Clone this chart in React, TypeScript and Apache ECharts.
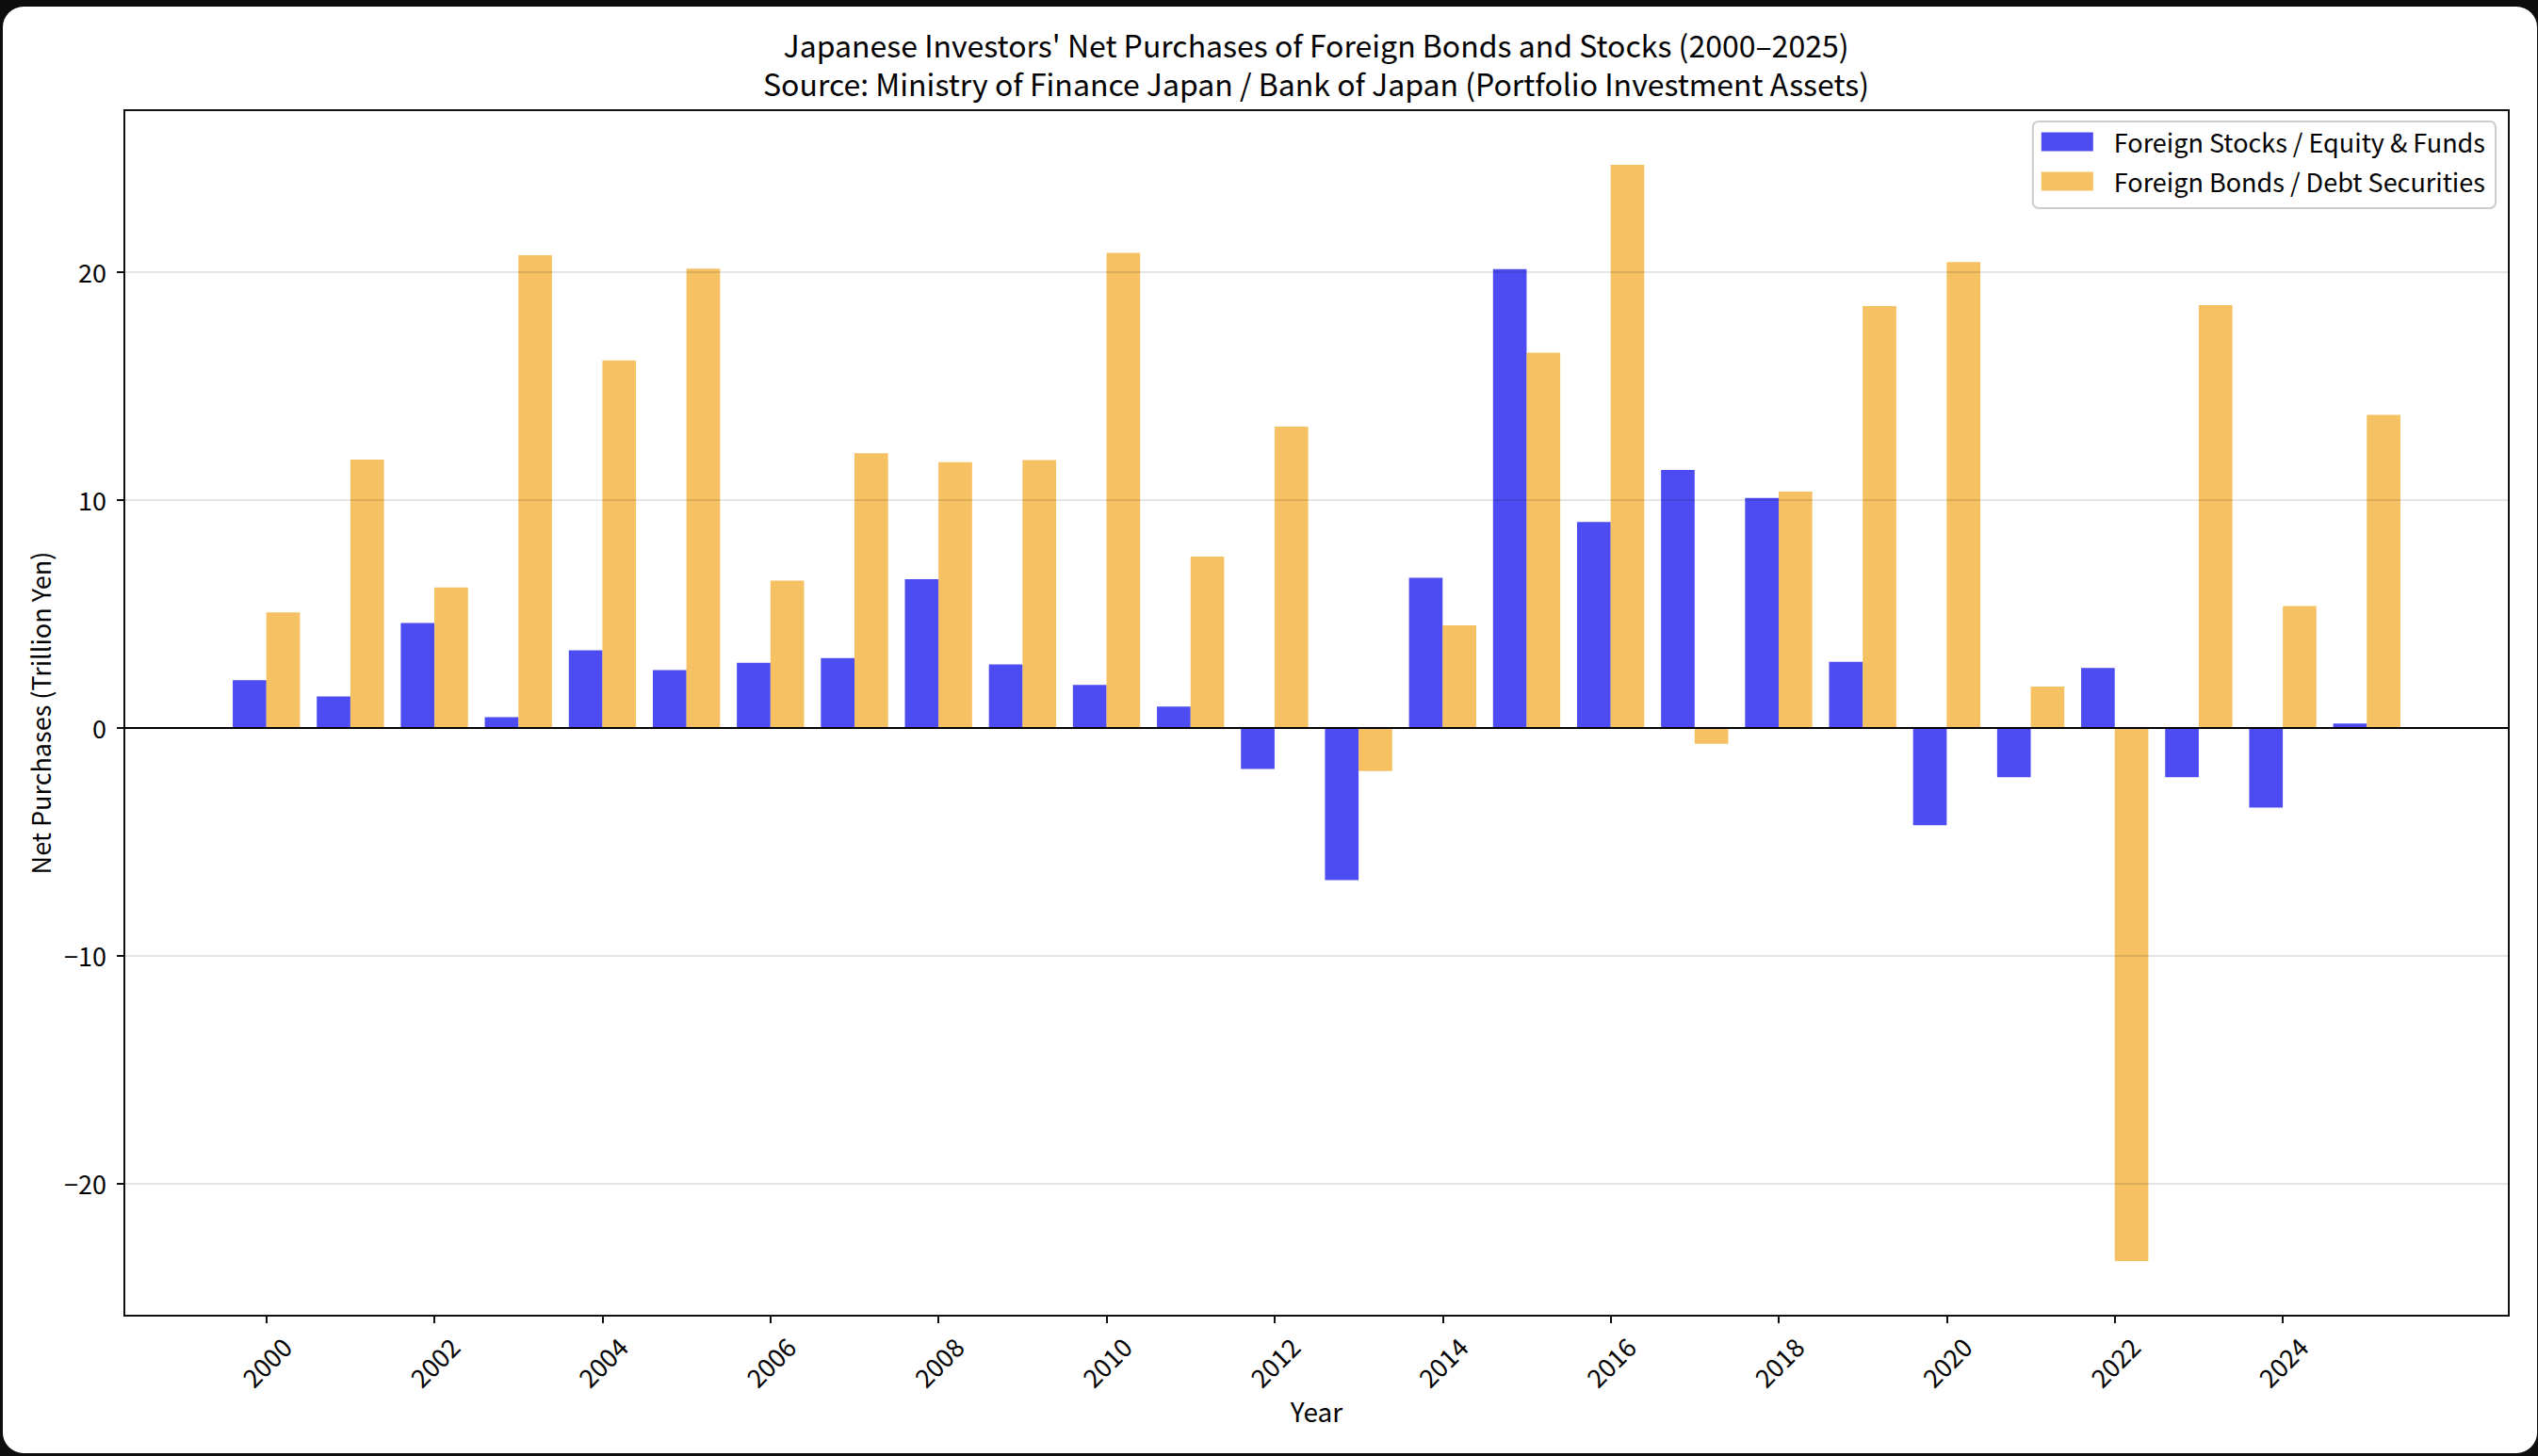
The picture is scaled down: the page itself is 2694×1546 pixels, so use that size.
import React, { useEffect, useRef } from "react";
import * as echarts from "echarts";

const years = [2000, 2001, 2002, 2003, 2004, 2005, 2006, 2007, 2008, 2009, 2010, 2011, 2012, 2013, 2014, 2015, 2016, 2017, 2018, 2019, 2020, 2021, 2022, 2023, 2024, 2025];
const stocks = [2.09, 1.37, 4.6, 0.46, 3.4, 2.53, 2.85, 3.06, 6.52, 2.78, 1.88, 0.93, -1.81, -6.69, 6.58, 20.13, 9.03, 11.31, 10.08, 2.89, -4.28, -2.17, 2.62, -2.17, -3.5, 0.19];
const bonds = [5.06, 11.77, 6.16, 20.74, 16.12, 20.15, 6.46, 12.05, 11.65, 11.75, 20.84, 7.51, 13.21, -1.9, 4.49, 16.46, 24.7, -0.7, 10.36, 18.5, 20.44, 1.81, -23.4, 18.54, 5.34, 13.73];
const xTicks = [2000, 2002, 2004, 2006, 2008, 2010, 2012, 2014, 2016, 2018, 2020, 2022, 2024];
const yTicks = [-20, -10, 0, 10, 20];
const gridValues = [-20, -10, 10, 20];
const seriesNames = ["Foreign Stocks / Equity & Funds", "Foreign Bonds / Debt Securities"];
const titleText = "Japanese Investors' Net Purchases of Foreign Bonds and Stocks (2000\u20132025)\nSource: Ministry of Finance Japan / Bank of Japan (Portfolio Investment Assets)";

const FONT = "'Noto Sans CJK JP', 'Noto Sans', sans-serif";
const X_MIN = 1998.31;
const X_MAX = 2026.69;
const GRID = { left: 132, top: 117, width: 2531, height: 1280 };

export default function App() {
  const ref = useRef<HTMLDivElement>(null);
  useEffect(() => {
    const chart = echarts.init(ref.current!, null, { renderer: "svg" });
    const barW = (0.4 * GRID.width) / (X_MAX - X_MIN);
    const minus = (v: number) => String(v).replace("-", "\u2212");
    chart.setOption({
      animation: false,
      backgroundColor: "transparent",
      textStyle: { fontFamily: FONT },
      title: {
        text: titleText,
        left: 1397,
        top: 26,
        padding: 0,
        textAlign: "center",
        textStyle: { fontSize: 32, fontWeight: "normal", color: "#000", lineHeight: 41, fontFamily: FONT },
      },
      legend: {
        data: seriesNames,
        orient: "vertical",
        right: 45,
        top: 129,
        padding: [8, 11, 15, 9],
        itemWidth: 55,
        itemHeight: 20,
        itemGap: 15,
        icon: "rect",
        backgroundColor: "#fff",
        borderColor: "#cccccc",
        borderWidth: 2,
        borderRadius: 6,
        textStyle: { fontSize: 27, color: "#000", padding: [0, 0, 0, 17], fontFamily: FONT },
      },
      grid: { ...GRID, outerBoundsMode: "none", containLabel: false, show: true, borderColor: "#111", borderWidth: 2, backgroundColor: "transparent" },
      xAxis: {
        type: "value",
        min: X_MIN,
        max: X_MAX,
        name: "Year",
        nameLocation: "middle",
        nameGap: 86,
        nameTextStyle: { fontSize: 28, color: "#000", fontFamily: FONT },
        axisLine: { show: true, onZero: false, lineStyle: { color: "#111", width: 2 } },
        axisTick: { show: true, length: 8, customValues: xTicks, lineStyle: { color: "#111", width: 2 } },
        axisLabel: { customValues: xTicks, rotate: 45, align: "center", verticalAlign: "middle", margin: 49, fontSize: 27, color: "#000", fontFamily: FONT, formatter: (v: number) => String(v) },
        splitLine: { show: false },
      },
      yAxis: {
        type: "value",
        min: -25.8,
        max: 27.1,
        name: "Net Purchases (Trillion Yen)",
        nameLocation: "middle",
        nameGap: 76,
        nameTextStyle: { fontSize: 27, color: "#000", fontFamily: FONT },
        axisLine: { show: true, onZero: false, lineStyle: { color: "#111", width: 2 } },
        axisTick: { show: true, length: 8, customValues: yTicks, lineStyle: { color: "#111", width: 2 } },
        axisLabel: { customValues: yTicks, margin: 19, fontSize: 27, color: "#000", fontFamily: FONT, formatter: minus },
        splitLine: { show: false },
      },
      series: [
        {
          name: seriesNames[0],
          type: "bar",
          data: years.map((y, i) => [y, stocks[i]]),
          barWidth: barW,
          barGap: "0%",
          itemStyle: { color: "rgba(0,0,236,0.7)" },
          markLine: {
            silent: true,
            symbol: ["none", "none"],
            label: { show: false },
            lineStyle: { color: "rgba(0,0,0,0.1)", width: 2, type: "solid" },
            data: gridValues.map((v) => ({ yAxis: v })),
          },
        },
        {
          name: seriesNames[1],
          type: "bar",
          data: years.map((y, i) => [y, bonds[i]]),
          barWidth: barW,
          barGap: "0%",
          itemStyle: { color: "rgba(241,166,32,0.7)" },
          markLine: {
            silent: true,
            symbol: ["none", "none"],
            label: { show: false },
            lineStyle: { color: "#000", width: 2, type: "solid" },
            data: [{ yAxis: 0 }],
          },
        },
      ],
    });
    return () => chart.dispose();
  }, []);
  return (
    <div style={{ position: "fixed", left: 0, top: 0, width: 2694, height: 1546, background: "#0d0d0d", overflow: "hidden" }}>
      <div style={{ position: "absolute", left: 3, top: 7, right: 1, bottom: 3, background: "#fff", borderRadius: 22 }} />
      <div ref={ref} style={{ position: "absolute", left: 0, top: 0, width: 2694, height: 1546 }} />
    </div>
  );
}
